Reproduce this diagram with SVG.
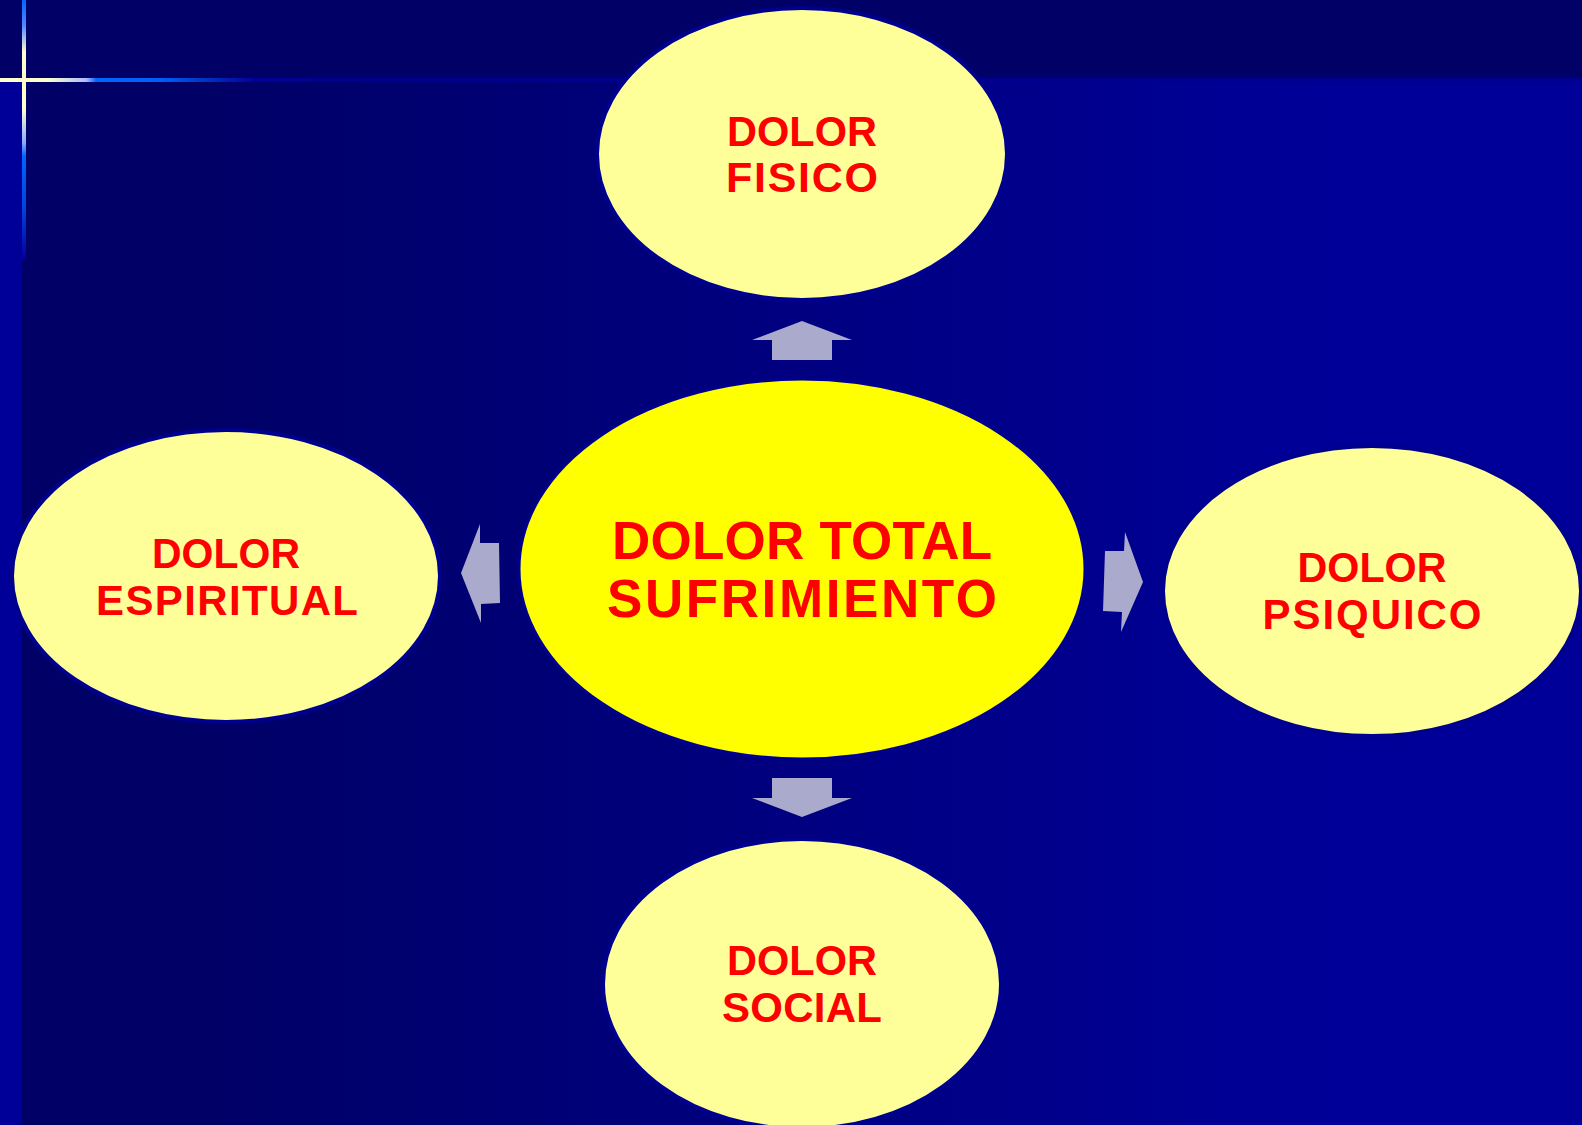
<svg xmlns="http://www.w3.org/2000/svg" width="1582" height="1125" viewBox="0 0 1582 1125">
<defs>
<linearGradient id="bgMain" x1="0" y1="0" x2="1582" y2="0" gradientUnits="userSpaceOnUse">
<stop offset="0.12" stop-color="#000066"/>
<stop offset="0.85" stop-color="#000099"/>
</linearGradient>
<linearGradient id="vline" x1="0" y1="0" x2="0" y2="260" gradientUnits="userSpaceOnUse">
<stop offset="0" stop-color="#0066FF"/>
<stop offset="0.1" stop-color="#5588FF"/>
<stop offset="0.2" stop-color="#FFFFCC"/>
<stop offset="0.42" stop-color="#FFFFCC"/>
<stop offset="0.55" stop-color="#88AAFF"/>
<stop offset="0.6" stop-color="#0066FF"/>
<stop offset="0.8" stop-color="#0044DD"/>
<stop offset="1" stop-color="#000099"/>
</linearGradient>
<linearGradient id="hline" x1="0" y1="0" x2="320" y2="0" gradientUnits="userSpaceOnUse">
<stop offset="0" stop-color="#FFFFCC"/>
<stop offset="0.15" stop-color="#FFFFCC"/>
<stop offset="0.27" stop-color="#AABBFF"/>
<stop offset="0.3" stop-color="#0066FF"/>
<stop offset="0.5" stop-color="#0060F8"/>
<stop offset="0.6" stop-color="#0040CC"/>
<stop offset="0.8" stop-color="#000099"/>
<stop offset="1" stop-color="#000090"/>
</linearGradient>
</defs>
<style>
.outer{fill:#FFFF99;stroke:#00008F;stroke-width:4}
.center{fill:#FFFF00;stroke:#00008F;stroke-width:3}
.lbl{font-family:"Liberation Sans",Arial,sans-serif;font-weight:bold;fill:#FF0000;text-anchor:middle}
.s43{font-size:43px}
.s42{font-size:42px}
.s53{font-size:53px}
.arrow{fill:#AAAACC}
</style>
<g id="background">
<rect x="0" y="0" width="1582" height="1125" fill="url(#bgMain)"/>
<rect x="0" y="0" width="1582" height="80" fill="#000066"/>
<rect x="0" y="80" width="22" height="1045" fill="#000099"/>
<rect x="0" y="78" width="1582" height="4" fill="url(#hline)"/>
<rect x="320" y="78" width="1262" height="4" fill="#000090"/>
<rect x="22" y="0" width="4" height="260" fill="url(#vline)"/>
</g>
<g id="connectors">
<polygon class="arrow" points="802,321 852,340 832,340 832,360 772,360 772,340 752,340"/>
<polygon class="arrow" points="802,817 852,798 832,798 832,778 772,778 772,798 752,798"/>
<polygon class="arrow" points="461,573 480,524 480,543 499,543 500,603 481,604 481,623"/>
<polygon class="arrow" points="1143,582 1125,532 1124,551 1105,551 1103,611 1122,612 1121,632"/>
</g>
<g id="node-fisico">
<ellipse class="outer" cx="802" cy="154" rx="205" ry="146"/>
<text class="lbl s43" x="802" y="146" textLength="150" lengthAdjust="spacingAndGlyphs">DOLOR</text>
<text class="lbl s43" x="802" y="192" textLength="152" lengthAdjust="spacing">FISICO</text>
</g>
<g id="node-total">
<ellipse class="center" cx="802" cy="569" rx="283" ry="190"/>
<text class="lbl s53" x="802" y="559" textLength="380" lengthAdjust="spacing">DOLOR TOTAL</text>
<text class="lbl s53" x="802" y="617" textLength="390" lengthAdjust="spacing">SUFRIMIENTO</text>
</g>
<g id="node-espiritual">
<ellipse class="outer" cx="226" cy="576" rx="214" ry="146"/>
<text class="lbl s42" x="226" y="568" textLength="148" lengthAdjust="spacingAndGlyphs">DOLOR</text>
<text class="lbl s42" x="227" y="615" textLength="262" lengthAdjust="spacing">ESPIRITUAL</text>
</g>
<g id="node-psiquico">
<ellipse class="outer" cx="1372" cy="591" rx="209" ry="145"/>
<text class="lbl s42" x="1372" y="582" textLength="149" lengthAdjust="spacingAndGlyphs">DOLOR</text>
<text class="lbl s42" x="1372" y="629" textLength="219" lengthAdjust="spacing">PSIQUICO</text>
</g>
<g id="node-social">
<ellipse class="outer" cx="802" cy="984" rx="199" ry="145"/>
<text class="lbl s42" x="802" y="975" textLength="150" lengthAdjust="spacingAndGlyphs">DOLOR</text>
<text class="lbl s42" x="802" y="1022" textLength="160" lengthAdjust="spacing">SOCIAL</text>
</g>
</svg>
